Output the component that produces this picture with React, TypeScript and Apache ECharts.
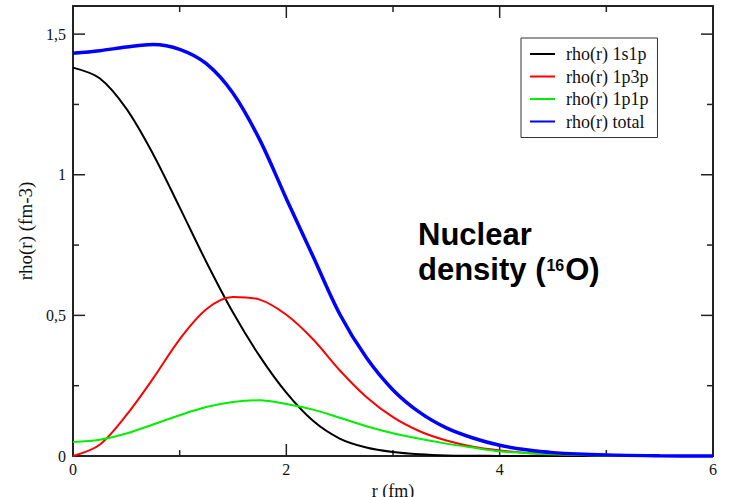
import React, { useEffect, useRef } from "react";
import * as echarts from "echarts";

// radius grid (fm)
const radius = [0, 0.25, 0.5, 0.75, 1, 1.25, 1.5, 1.75, 2, 2.25, 2.5, 2.75, 3, 3.25, 3.5, 3.75, 4, 4.25, 4.5, 5, 5.5, 6];

// densities (fm^-3)
const rho1s1p = [1.381, 1.343, 1.235, 1.074, 0.884, 0.69, 0.51, 0.355, 0.225, 0.125, 0.062, 0.03, 0.014, 0.006, 0.002, 0.001, 0.0003, 0.0001, 0, 0, 0, 0];
const rho1p3p = [0, 0.04, 0.145, 0.275, 0.415, 0.522, 0.565, 0.556, 0.502, 0.415, 0.305, 0.21, 0.138, 0.088, 0.055, 0.033, 0.02, 0.011, 0.006, 0.0015, 0.0003, 0];
const rho1p1p = [0.05, 0.058, 0.08, 0.112, 0.145, 0.174, 0.192, 0.198, 0.185, 0.165, 0.136, 0.106, 0.081, 0.061, 0.044, 0.03, 0.017, 0.011, 0.006, 0.002, 0.0005, 0];
const rhoTotal = [1.432, 1.441, 1.454, 1.463, 1.446, 1.395, 1.29, 1.125, 0.915, 0.71, 0.505, 0.35, 0.235, 0.155, 0.1, 0.064, 0.038, 0.022, 0.012, 0.004, 0.001, 0];

const seriesNames = ["rho(r) 1s1p", "rho(r) 1p3p", "rho(r) 1p1p", "rho(r) total"];
const seriesColors = ["#000000", "#ff0000", "#00ee00", "#0000ff"];
const seriesWidths = [2, 2, 2, 3.5];
const seriesValues = [rho1s1p, rho1p3p, rho1p1p, rhoTotal];

// axis ranges and tick positions
const X_MIN = 0;
const X_MAX = 6;
const Y_MIN = 0;
const Y_MAX = 1.6;
const xMajorTicks = [0, 2, 4, 6];
const xMinorTicks = [1, 3, 5];
const yMajorTicks = [0, 0.5, 1, 1.5];
const yMinorTicks = [0.25, 0.75, 1.25];

const SERIF = "Liberation Serif";
const SANS = "Liberation Sans";
const FRAME = "#222";
const MAJOR_LEN = 12;
const MINOR_LEN = 6;

const frameLine = { show: true, onZero: false, lineStyle: { color: FRAME, width: 2 } };

// Inward tick marks on both opposite frame edges, placed through the cartesian scales.
function xTickSeries(values: number[], len: number) {
  return {
    type: "custom",
    coordinateSystem: "cartesian2d",
    xAxisIndex: 0,
    yAxisIndex: 0,
    silent: true,
    clip: false,
    z: 1,
    data: values.map((v) => [v, Y_MIN]),
    renderItem: (_params: any, api: any) => {
      const v = api.value(0);
      const bottom = api.coord([v, Y_MIN]);
      const top = api.coord([v, Y_MAX]);
      const style = { stroke: FRAME, lineWidth: 1.5 };
      return {
        type: "group",
        children: [
          { type: "line", shape: { x1: bottom[0], y1: bottom[1], x2: bottom[0], y2: bottom[1] - len }, style },
          { type: "line", shape: { x1: top[0], y1: top[1], x2: top[0], y2: top[1] + len }, style },
        ],
      };
    },
  };
}

function yTickSeries(values: number[], len: number) {
  return {
    type: "custom",
    coordinateSystem: "cartesian2d",
    xAxisIndex: 0,
    yAxisIndex: 0,
    silent: true,
    clip: false,
    z: 1,
    data: values.map((v) => [X_MIN, v]),
    renderItem: (_params: any, api: any) => {
      const v = api.value(1);
      const left = api.coord([X_MIN, v]);
      const right = api.coord([X_MAX, v]);
      const style = { stroke: FRAME, lineWidth: 1.5 };
      return {
        type: "group",
        children: [
          { type: "line", shape: { x1: left[0], y1: left[1], x2: left[0] + len, y2: left[1] }, style },
          { type: "line", shape: { x1: right[0], y1: right[1], x2: right[0] - len, y2: right[1] }, style },
        ],
      };
    },
  };
}

export default function App() {
  const ref = useRef<HTMLDivElement>(null);

  useEffect(() => {
    document.body.style.margin = "0";
    if (!ref.current) return;
    const chart = echarts.init(ref.current, undefined, { renderer: "svg" });

    chart.setOption({
      animation: false,
      backgroundColor: "#ffffff",
      grid: { left: 73, right: 16, top: 6, bottom: 41, containLabel: false, outerBoundsMode: "none" },
      xAxis: [
        {
          type: "value",
          position: "bottom",
          min: X_MIN,
          max: X_MAX,
          interval: 2,
          axisLine: frameLine,
          axisTick: { show: false },
          axisLabel: { show: true, margin: 5, fontFamily: SERIF, fontSize: 16, color: "#111" },
          splitLine: { show: false },
          name: "r (fm)",
          nameLocation: "middle",
          nameGap: 23,
          nameTextStyle: { fontFamily: SERIF, fontSize: 18, color: "#111" },
        },
        {
          type: "value",
          position: "top",
          min: X_MIN,
          max: X_MAX,
          interval: 2,
          axisLine: frameLine,
          axisTick: { show: false },
          axisLabel: { show: false },
          splitLine: { show: false },
        },
      ],
      yAxis: [
        {
          type: "value",
          position: "left",
          min: Y_MIN,
          max: Y_MAX,
          interval: 0.5,
          axisLine: frameLine,
          axisTick: { show: false },
          axisLabel: {
            show: true,
            margin: 7,
            fontFamily: SERIF,
            fontSize: 16,
            color: "#111",
            formatter: (v: number) => (v > 1.55 ? "" : String(v).replace(".", ",")),
          },
          splitLine: { show: false },
          name: "rho(r) (fm-3)",
          nameLocation: "middle",
          nameGap: 37,
          nameTextStyle: { fontFamily: SERIF, fontSize: 19, color: "#111" },
        },
        {
          type: "value",
          position: "right",
          min: Y_MIN,
          max: Y_MAX,
          interval: 0.5,
          axisLine: frameLine,
          axisTick: { show: false },
          axisLabel: { show: false },
          splitLine: { show: false },
        },
      ],
      legend: {
        orient: "vertical",
        left: 521,
        top: 38,
        padding: [7, 9, 7, 8],
        itemWidth: 25,
        itemHeight: 14,
        itemGap: 4.5,
        borderColor: "#333",
        borderWidth: 1,
        backgroundColor: "#fff",
        itemStyle: { opacity: 0 },
        data: seriesNames,
        textStyle: { fontFamily: SERIF, fontSize: 18, color: "#111", padding: [0, 0, 0, 6] },
      },
      graphic: [
        {
          type: "text",
          left: 418,
          top: 219,
          z: 10,
          style: {
            text: "{a|Nuclear}\n{a|density (}{s|16}{a|O)}",
            fill: "#000",
            rich: {
              a: { fontFamily: SANS, fontSize: 31, fontWeight: "bold", lineHeight: 35, fill: "#000" },
              s: {
                fontFamily: SANS,
                fontSize: 16,
                fontWeight: "bold",
                lineHeight: 30,
                padding: [5, 1, 0, 1],
                verticalAlign: "top",
                fill: "#000",
              },
            },
          },
        },
      ],
      series: [
        xTickSeries(xMajorTicks, MAJOR_LEN),
        xTickSeries(xMinorTicks, MINOR_LEN),
        yTickSeries(yMajorTicks, MAJOR_LEN),
        yTickSeries(yMinorTicks, MINOR_LEN),
        ...seriesNames.map((name, i) => ({
          name,
          type: "line",
          xAxisIndex: 0,
          yAxisIndex: 0,
          data: radius.map((r, k) => [r, seriesValues[i][k]]),
          symbol: "none",
          smooth: 0.33,
          clip: false,
          lineStyle: { color: seriesColors[i], width: seriesWidths[i] },
          itemStyle: { color: seriesColors[i] },
          z: 2 + i,
        })),
      ],
    });

    return () => chart.dispose();
  }, []);

  return <div ref={ref} style={{ width: 729, height: 497 }} />;
}
